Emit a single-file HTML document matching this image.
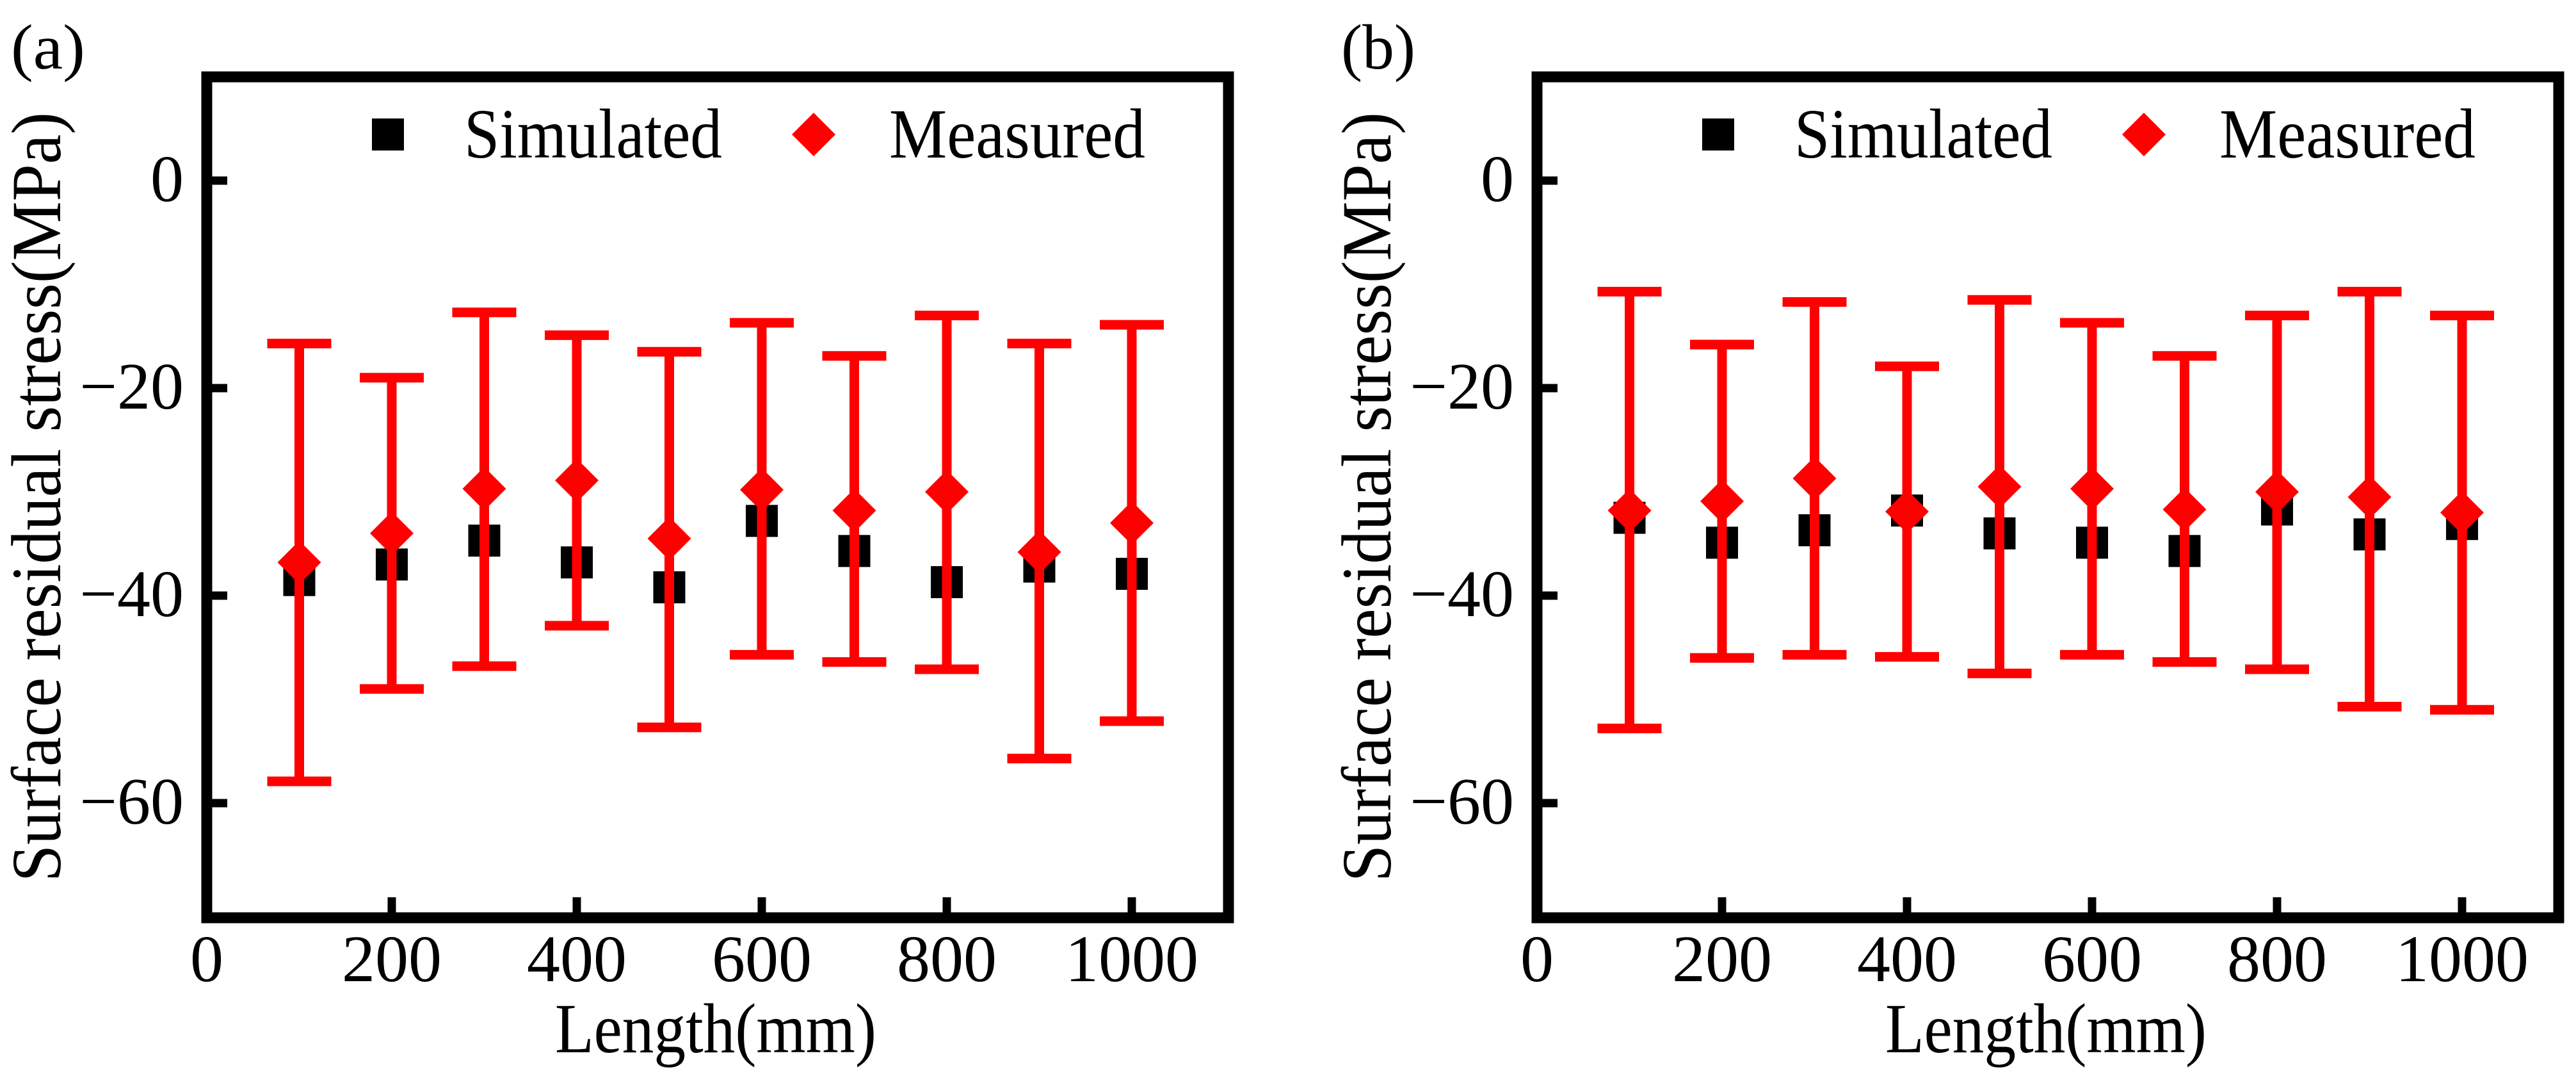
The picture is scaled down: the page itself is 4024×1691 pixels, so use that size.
<!DOCTYPE html>
<html><head><meta charset="utf-8">
<style>
html,body{margin:0;padding:0;background:#fff;}
svg{display:block;}
text{font-family:"Liberation Serif","Times New Roman",serif;fill:#000;}
</style></head>
<body>
<svg id="fig" width="4024" height="1691" viewBox="0 0 4024 1691" xmlns="http://www.w3.org/2000/svg">
<rect width="4024" height="1691" fill="#fff"/>
</svg>
<script>
const lengths = [100,200,300,400,500,600,700,800,900,1000];
const simA = [-38.5,-37,-34.7,-36.8,-39.2,-32.8,-35.7,-38.7,-37.2,-37.9];
const measA = [-36.8,-34,-29.7,-28.9,-34.5,-29.8,-31.8,-30,-35.8,-33];
const upperA = [-15.7,-19,-12.7,-14.9,-16.5,-13.7,-16.9,-13,-15.7,-13.9];
const lowerA = [-57.9,-49,-46.8,-42.9,-52.7,-45.7,-46.4,-47.1,-55.7,-52.1];
const simB = [-32.5,-34.9,-33.7,-31.8,-34,-34.9,-35.7,-31.7,-34.1,-33.1];
const measB = [-31.8,-30.9,-28.7,-31.9,-29.5,-29.7,-31.7,-30,-30.5,-32];
const upperB = [-10.7,-15.8,-11.7,-17.9,-11.5,-13.7,-16.9,-13,-10.7,-13];
const lowerB = [-52.8,-46,-45.7,-45.9,-47.5,-45.7,-46.4,-47.1,-50.7,-51];
const xTicks = [0,200,400,600,800,1000];
const yTicks = [0,-20,-40,-60];
const yTickLabels = ["0","\u221220","\u221240","\u221260"];

const NS = "http://www.w3.org/2000/svg";
const svg = document.getElementById('fig');
function mk(tag, attrs, parent){
  const e = document.createElementNS(NS, tag);
  for (const k in attrs) e.setAttribute(k, attrs[k]);
  (parent||svg).appendChild(e);
  return e;
}

function panel(off, label, sim, meas, up, lo, key){
  const g = mk('g', {});
  
  
  const xs = v => off + 323 + v * 1.445;
  const ys = v => 282 - v * 16.2;
  const L = off + 323, R = off + 1919, T = 120, B = 1433;

  const pl = mk('text', {x: off + 17, y: 107, 'font-size': 100, textLength: 116, lengthAdjust: 'spacingAndGlyphs'}, g);
  pl.textContent = label;
  
  

  xTicks.forEach(t => {
    if (t > 0) {
      const tk = mk('line', {x1: xs(t), x2: xs(t), y1: B - 8, y2: B - 32, stroke: '#000', 'stroke-width': 13}, g);
      
      
    }
    const tl = mk('text', {x: xs(t), y: 1532, 'font-size': 104, 'text-anchor': 'middle'}, g);
    tl.textContent = String(t);
    
    
  });
  yTicks.forEach((t, i) => {
    const tk = mk('line', {x1: L + 8, x2: L + 32, y1: ys(t), y2: ys(t), stroke: '#000', 'stroke-width': 13}, g);
    
    
    const tl = mk('text', {x: L - 36, y: ys(t) + 32, 'font-size': 104, 'text-anchor': 'end'}, g);
    tl.textContent = yTickLabels[i];
    
    
  });

  lengths.forEach((x, i) => {
    const s = mk('rect', {x: xs(x) - 25, y: ys(sim[i]) - 25, width: 50, height: 50, fill: '#000'}, g);
    
    
  });
  lengths.forEach((x, i) => {
    const cx = xs(x);
    const eb = mk('path', {d: `M${cx},${ys(up[i])}V${ys(lo[i])}M${cx-50},${ys(up[i])}H${cx+50}M${cx-50},${ys(lo[i])}H${cx+50}`, stroke: '#ff0000', 'stroke-width': 15, fill: 'none'}, g);
    
    
    const cy = ys(meas[i]);
    const d = mk('polygon', {points: `${cx},${cy-34} ${cx+34},${cy} ${cx},${cy+34} ${cx-34},${cy}`, fill: '#ff0000'}, g);
    
    
  });

  const fr = mk('rect', {x: L, y: T, width: R - L, height: B - T, fill: 'none', stroke: '#000', 'stroke-width': 17}, g);
  
  

  const lg = mk('g', {}, g);
  
  
  const ls = mk('rect', {x: off + 581, y: 185, width: 50, height: 50, fill: '#000'}, lg);
  
  
  const lt1 = mk('text', {x: off + 725, y: 246, 'font-size': 110, textLength: 403, lengthAdjust: 'spacingAndGlyphs'}, lg);
  lt1.textContent = 'Simulated';
  
  
  const lx = off + 1271, ly = 210;
  const ld = mk('polygon', {points: `${lx},${ly-34} ${lx+34},${ly} ${lx},${ly+34} ${lx-34},${ly}`, fill: '#ff0000'}, lg);
  
  
  const lt2 = mk('text', {x: off + 1389, y: 246, 'font-size': 110, textLength: 400, lengthAdjust: 'spacingAndGlyphs'}, lg);
  lt2.textContent = 'Measured';
  
  

  const xt = mk('text', {x: off + 867, y: 1643, 'font-size': 110, textLength: 502, lengthAdjust: 'spacingAndGlyphs'}, g);
  xt.textContent = 'Length(mm)';
  
  
  const yt = mk('text', {x: -601, y: 0, 'font-size': 110, textLength: 1202, lengthAdjust: 'spacingAndGlyphs', transform: `translate(${off + 94},776) rotate(-90)`}, g);
  yt.textContent = 'Surface residual stress(MPa)';
  
  
}

panel(0, '(a)', simA, measA, upperA, lowerA, 'a');
panel(2078, '(b)', simB, measB, upperB, lowerB, 'b');
</script>
</body></html>
